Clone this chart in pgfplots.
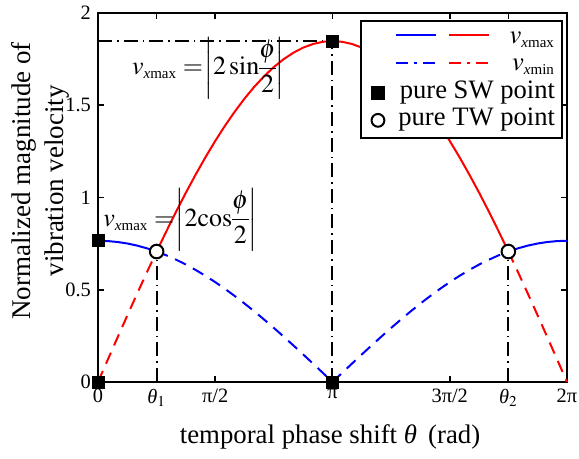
\documentclass[border=0pt]{standalone}
\usepackage{mathptmx}
\usepackage{fontspec}
\setmainfont{Liberation Serif}
\usepackage{pgfplots}
\pgfplotsset{compat=1.18}
\newcommand\sx[1]{_{\mbox{\fontsize{7.5}{8}\selectfont\itshape x\upshape #1}}}
\begin{document}
\begin{tikzpicture}
\path[use as bounding box] (-49pt,-38.5pt) rectangle (240.5pt,191pt);
\begin{axis}[
  at={(0pt,0pt)}, anchor=south west,
  scale only axis, width=234.5pt, height=184.5pt,
  xmin=0, xmax=6.2832, ymin=0, ymax=2,
  clip=false,
  axis line style={line width=1pt},
  tick style={line width=0.8pt, black},
  major tick length=3pt,
  tick align=inside,
  xtick={0,0.7854,1.5708,3.1416,4.7124,5.4978,6.2832},
  xticklabels={0,{\itshape θ}$_1$,π/2,π,3π/2,{\itshape θ}$_2$,2π},
  ytick={0,0.5,1,1.5,2},
  yticklabels={0,0.5,1,1.5,2},
  tick label style={font=\fontsize{10.2}{12}\selectfont},
  xlabel={temporal phase shift {\itshape θ}\ \,(rad)},
  xlabel style={font=\fontsize{13.4}{16}\selectfont, at={(axis description cs:0.4947,-0.149)}, anchor=center},
  ylabel={Normalized magnitude of\\vibration velocity},
  ylabel style={font=\fontsize{13.5}{16.5}\selectfont, align=center, at={(axis description cs:-0.1237,0.545)}, anchor=center},
  legend cell align=right,
  legend style={at={(axis description cs:0.5586,0.981)}, anchor=north west,
    draw=black, line width=1pt, fill=white,
    font=\fontsize{13.3}{15}\selectfont,
    inner xsep=2.5pt, inner ysep=1.9pt, row sep=0pt,
    nodes={inner xsep=1pt, inner ysep=0pt, text height=9.3pt, text depth=4.35pt},
    /tikz/every odd column/.append style={column sep=6pt}},
]
% dash-dot guide lines
\addplot[forget plot, black, line width=1pt, dash pattern=on 7pt off 2.5pt on 0.8pt off 2.5pt] coordinates {(0.7854,0) (0.7854,0.66)};
\addplot[forget plot, black, line width=1pt, dash pattern=on 7pt off 2.5pt on 0.8pt off 2.5pt] coordinates {(3.1416,0) (3.1416,1.8478)};
\addplot[forget plot, black, line width=1pt, dash pattern=on 7pt off 2.5pt on 0.8pt off 2.5pt] coordinates {(0,1.8478) (3.1416,1.8478)};
\addplot[forget plot, black, line width=1pt, dash pattern=on 7pt off 2.5pt on 0.8pt off 2.5pt] coordinates {(5.4978,0) (5.4978,0.66)};
% red curves
\addplot[forget plot, red, line width=1pt, dash pattern=on 6pt off 4pt] coordinates {
(0,0) (0.1309,0.1208) (0.2618,0.2412) (0.3927,0.3605) (0.5236,0.4782) (0.6545,0.5939) (0.7854,0.7071)};
\addplot[forget plot, red, line width=1pt] coordinates {
(0.7854,0.7071) (0.9163,0.8172) (1.0472,0.9239) (1.1781,1.0266) (1.3090,1.1248) (1.4399,1.2183)
(1.5708,1.3066) (1.7017,1.3892) (1.8326,1.4659) (1.9635,1.5364) (2.0944,1.6002) (2.2253,1.6572)
(2.3562,1.7071) (2.4871,1.7497) (2.6180,1.7848) (2.7489,1.8123) (2.8798,1.8320) (3.0107,1.8438)
(3.1416,1.8478) (3.2725,1.8438) (3.4034,1.8320) (3.5343,1.8123) (3.6652,1.7848) (3.7961,1.7497)
(3.9270,1.7071) (4.0579,1.6572) (4.1888,1.6002) (4.3197,1.5364) (4.4506,1.4659) (4.5815,1.3892)
(4.7124,1.3066) (4.8433,1.2183) (4.9742,1.1248) (5.1051,1.0266) (5.2360,0.9239) (5.3669,0.8172)
(5.4978,0.7071)};
\addplot[forget plot, red, line width=1pt, dash pattern=on 6pt off 4pt] coordinates {
(5.4978,0.7071) (5.6287,0.5939) (5.7596,0.4782) (5.8905,0.3605) (6.0214,0.2412) (6.1523,0.1208) (6.2832,0)};
% blue curves
\addplot[forget plot, blue, line width=1pt] coordinates {
(0,0.7654) (0.1309,0.7637) (0.2618,0.7588) (0.3927,0.7507) (0.5236,0.7393) (0.6545,0.7247) (0.7854,0.7071)};
\addplot[forget plot, blue, line width=1pt, dash pattern=on 6pt off 4pt] coordinates {
(0.7854,0.7071) (0.9163,0.6864) (1.0472,0.6628) (1.1781,0.6364) (1.3090,0.6072) (1.4399,0.5754)
(1.5708,0.5412) (1.7017,0.5046) (1.8326,0.4659) (1.9635,0.4252) (2.0944,0.3827) (2.2253,0.3385)
(2.3562,0.2929) (2.4871,0.2460) (2.6180,0.1981) (2.7489,0.1493) (2.8798,0.0999) (3.0107,0.0501)
(3.1416,0) (3.2725,0.0501) (3.4034,0.0999) (3.5343,0.1493) (3.6652,0.1981) (3.7961,0.2460)
(3.9270,0.2929) (4.0579,0.3385) (4.1888,0.3827) (4.3197,0.4252) (4.4506,0.4659) (4.5815,0.5046)
(4.7124,0.5412) (4.8433,0.5754) (4.9742,0.6072) (5.1051,0.6364) (5.2360,0.6628) (5.3669,0.6864)
(5.4978,0.7071)};
\addplot[forget plot, blue, line width=1pt] coordinates {
(5.4978,0.7071) (5.6287,0.7247) (5.7596,0.7393) (5.8905,0.7507) (6.0214,0.7588) (6.1523,0.7637) (6.2832,0.7654)};
% points
\addplot[forget plot, only marks, mark=square*, mark size=3pt, black] coordinates {
(0,0.7654) (0,0) (3.1416,1.8478) (3.1416,0)};
\addplot[forget plot, only marks, mark=*, mark size=3.4pt, black, mark options={fill=white, line width=1pt}] coordinates {
(0.7854,0.7071) (5.4978,0.7071)};
% annotations
\node[font=\fontsize{13}{15}\selectfont, inner sep=0pt, anchor=west] at (axis cs:0.4515,1.70)
  {\nulldelimiterspace=0pt$v\sx{max} =\mkern-3mu \left|2\,\mathrm{sin}\displaystyle\frac{\phi}{2}\right|$};
\node[font=\fontsize{13}{15}\selectfont, inner sep=0pt, anchor=west] at (axis cs:0.067,0.88)
  {\nulldelimiterspace=0pt$v\sx{max} =\mkern-3mu \left|2\mathrm{cos}\displaystyle\frac{\phi}{2}\right|$};
% legend
\addlegendimage{legend image code/.code={
  \draw[overlay, draw=blue, fill=none, line width=1pt] (9pt,1.5pt) -- (29pt,1.5pt);
  \draw[overlay, draw=red, fill=none, line width=1pt] (35.5pt,1.5pt) -- (55.5pt,1.5pt);
  \path[draw=none, fill=none] (-6pt,-3pt) rectangle (3pt,3pt);}}
\addlegendentry{$v\sx{max}$}
\addlegendimage{legend image code/.code={
  \draw[overlay, draw=blue, fill=none, line width=1pt, dash pattern=on 6pt off 3pt on 1.5pt off 3pt] (9pt,1.5pt) -- (29pt,1.5pt);
  \draw[overlay, draw=red, fill=none, line width=1pt, dash pattern=on 6pt off 3pt on 1.5pt off 3pt] (35.5pt,1.5pt) -- (55.5pt,1.5pt);
  \path[draw=none, fill=none] (-6pt,-3pt) rectangle (3pt,3pt);}}
\addlegendentry{$v\sx{min}$}
\addlegendimage{legend image code/.code={
  \path[draw=none, fill=none] (-6pt,-3pt) rectangle (3pt,3pt);
  \draw[draw=black, fill=black] plot[only marks, mark=square*, mark size=3pt] coordinates {(0pt,0pt)};}}
\addlegendentry{pure SW point}
\addlegendimage{legend image code/.code={
  \path[draw=none, fill=none] (-6pt,-3pt) rectangle (3pt,3pt);
  \draw[draw=black, fill=white] plot[only marks, mark=*, mark size=3.2pt, mark options={fill=white, line width=1pt}] coordinates {(0pt,0pt)};}}
\addlegendentry{pure TW point}
\end{axis}
\end{tikzpicture}
\end{document}
